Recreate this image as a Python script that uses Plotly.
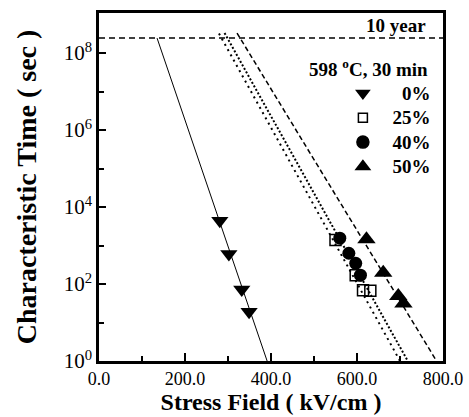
import plotly.graph_objects as go

# ---------------- data ----------------
series_names = ["0%", "25%", "40%", "50%"]

x_0 = [281, 302, 332, 349]
y_0 = [4400, 600, 72, 19]

x_25 = [550, 597, 614, 631]
y_25 = [1400, 170, 69, 67]

x_40 = [560, 581, 597, 608]
y_40 = [1550, 630, 345, 170]

x_50 = [622, 661, 696, 708]
y_50 = [1450, 196, 49, 31]

# fitted lines (end points)
fit_x_0 = [135, 391]
fit_y_0 = [2.45e8, 1]
fit_x_25 = [279, 700]
fit_y_25 = [3.2e8, 1]
fit_x_40 = [292, 718]
fit_y_40 = [3.3e8, 1]
fit_x_50 = [321, 785]
fit_y_50 = [3.3e8, 1]

ten_year_x = [0, 800]
ten_year_y = [2.45e8, 2.45e8]

x_tickvals = [0, 200, 400, 600, 800]
x_minor = [100, 300, 500, 700]
y_tickvals = [1, 1e2, 1e4, 1e6, 1e8]
y_ticktext = ["10<sup>0</sup>", "10<sup>2</sup>", "10<sup>4</sup>", "10<sup>6</sup>", "10<sup>8</sup>"]
y_minor = [10, 1e3, 1e5, 1e7]

FONT = "Liberation Serif"

fig = go.Figure()

# lines
fig.add_trace(go.Scatter(x=ten_year_x, y=ten_year_y, mode="lines",
                         line=dict(color="black", width=1.5, dash="6px,4px"), showlegend=False))
fig.add_trace(go.Scatter(x=fit_x_0, y=fit_y_0, mode="lines",
                         line=dict(color="black", width=1), showlegend=False))
fig.add_trace(go.Scatter(x=fit_x_25, y=fit_y_25, mode="lines",
                         line=dict(color="black", width=2, dash="2px,4px"), showlegend=False))
fig.add_trace(go.Scatter(x=fit_x_40, y=fit_y_40, mode="lines",
                         line=dict(color="black", width=2, dash="2px,2px"), showlegend=False))
fig.add_trace(go.Scatter(x=fit_x_50, y=fit_y_50, mode="lines",
                         line=dict(color="black", width=1.5, dash="5px,3px"), showlegend=False))

# data markers
fig.add_trace(go.Scatter(x=x_0, y=y_0, mode="markers", showlegend=False,
                         marker=dict(symbol="triangle-down", size=15, color="black")))
fig.add_trace(go.Scatter(x=x_25, y=y_25, mode="markers", showlegend=False,
                         marker=dict(symbol="square-open", size=11, color="black",
                                     line=dict(width=1.5, color="black"))))
fig.add_trace(go.Scatter(x=x_40, y=y_40, mode="markers", showlegend=False,
                         marker=dict(symbol="circle", size=13, color="black")))
fig.add_trace(go.Scatter(x=x_50, y=y_50, mode="markers", showlegend=False,
                         marker=dict(symbol="triangle-up", size=16, color="black")))

# legend entries (smaller symbols as in the reference)
legend_syms = [("triangle-down", 11), ("square-open", 9), ("circle", 12), ("triangle-up", 12)]
for name, (sym, sz) in zip(series_names, legend_syms):
    label = "\u2002" + (name if len(name) > 2 else "\u2007" + name)
    fig.add_trace(go.Scatter(
        x=[None], y=[None], mode="markers", name='<span style="font-size:19px">' + label + "</span>",
        marker=dict(symbol=sym, size=sz, color="black", line=dict(width=1.5, color="black"))))

fig.update_layout(
    width=469, height=417,
    margin=dict(l=99, r=26, t=13, b=56),
    plot_bgcolor="white", paper_bgcolor="white",
    font=dict(family=FONT, color="black"),
    legend=dict(x=0.709, xanchor="left", y=0.819, yanchor="top",
                font=dict(family=FONT, size=16.5, color="black", weight="bold"),
                bgcolor="rgba(0,0,0,0)", borderwidth=0, tracegroupgap=0),
    annotations=[
        dict(text="10 year", xref="paper", yref="paper", x=0.956, y=0.9655,
             xanchor="right", yanchor="middle", showarrow=False,
             font=dict(family=FONT, size=19, color="black", weight="bold")),
        dict(text="598 <sup>o</sup>C, 30 min", xref="paper", yref="paper", x=0.962, y=0.842,
             xanchor="right", yanchor="middle", showarrow=False,
             font=dict(family=FONT, size=19, color="black", weight="bold")),
    ],
)

fig.update_xaxes(
    range=[0, 800], tickvals=x_tickvals, tickformat=".1f",
    ticks="inside", ticklen=8, tickwidth=2, tickcolor="black",
    minor=dict(tickvals=x_minor, ticks="inside", ticklen=5, tickwidth=2, tickcolor="black"),
    showline=True, linewidth=2.5, linecolor="black", mirror=True,
    showgrid=False, zeroline=False,
    tickfont=dict(family=FONT, size=18, color="black"),
    title=dict(text="Stress Field ( kV/cm )", standoff=4,
               font=dict(family=FONT, size=24, color="black", weight="bold")),
    automargin=False,
)
fig.update_yaxes(
    type="log", range=[0, 9.04], tickvals=y_tickvals, ticktext=y_ticktext,
    ticks="inside", ticklen=7, tickwidth=2, tickcolor="black",
    minor=dict(tickvals=y_minor, ticks="inside", ticklen=5, tickwidth=2, tickcolor="black"),
    showline=True, linewidth=2.5, linecolor="black", mirror=True,
    showgrid=False, zeroline=False,
    tickfont=dict(family=FONT, size=21, color="black"),
    title=dict(text="Characteristic Time ( sec )", standoff=19,
               font=dict(family=FONT, size=28, color="black", weight="bold")),
    automargin=False,
)

fig.write_html("out.html")
